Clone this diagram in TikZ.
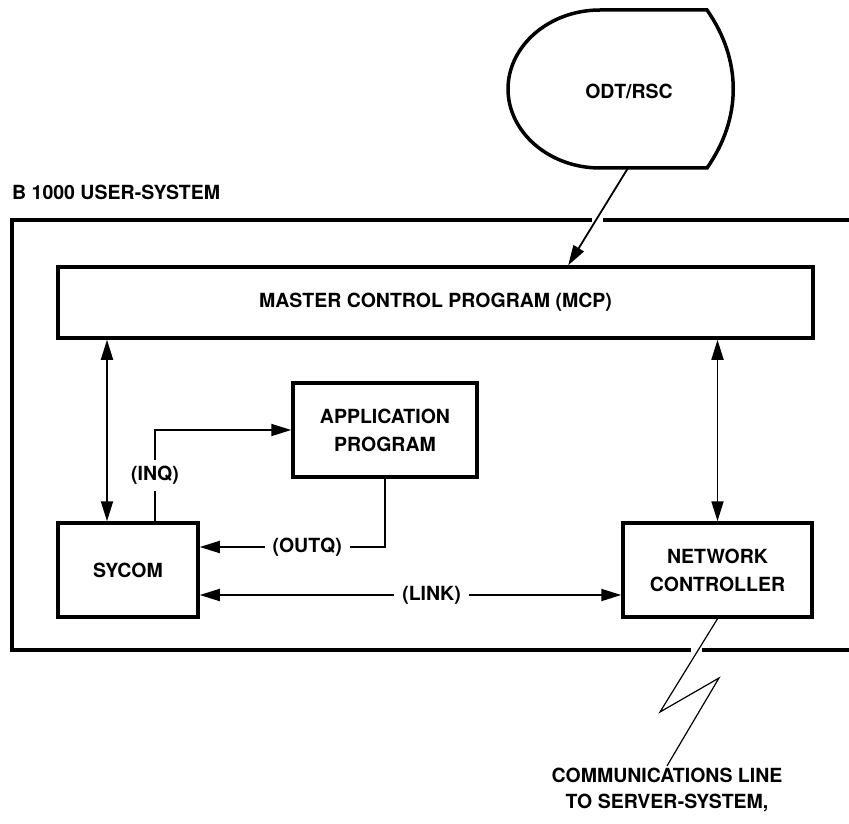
\documentclass[tikz,border=0pt]{standalone}
\usepackage{fontspec}
\setmainfont{TeX Gyre Heros}
\usetikzlibrary{arrows.meta}

\begin{document}
\begin{tikzpicture}[x=1pt,y=-1pt,
    box/.style={draw,line width=3.5pt,font=\bfseries\fontsize{19.5}{28}\selectfont,align=center,inner sep=0pt},
    conn/.style={line width=1.8pt},
    arr/.style={conn,-{Triangle[length=20pt,width=12pt]}},
    both/.style={conn,{Triangle[length=20pt,width=12pt]}-{Triangle[length=20pt,width=12pt]}},
    lbl/.style={font=\bfseries\fontsize{19.5}{26}\selectfont,align=center},
    tag/.style={lbl,fill=white,inner xsep=8pt,inner ysep=6pt}]
  \useasboundingbox (0,0) rectangle (849,824);
  \draw[line width=3.5pt] (852,220) -- (603,220) (592,220) -- (12,220) -- (12,650) -- (691,650)
    (702,650) -- (852,650);
  \draw[line width=3.5pt,line cap=round] (600,10) -- (707,10)
    .. controls (742,60) and (742,118) .. (707,168) -- (600,168)
    .. controls (549,168) and (508,132) .. (508,89)
    .. controls (508,46) and (549,10) .. (600,10);
  \node[lbl] (odt) at (629,91) {ODT/RSC};
  \coordinate (odtout) at (628,168);
  \node[lbl,anchor=west,inner sep=0pt] (sys) at (12,192) {B 1000 USER-SYSTEM};
  \node[box,minimum width=755pt,minimum height=71pt] (mcp) at (435.5,302.5) {MASTER CONTROL PROGRAM (MCP)};
  \node[box,minimum width=184pt,minimum height=94pt] (app) at (385,430) {APPLICATION\\PROGRAM};
  \node[box,minimum width=140pt,minimum height=94pt] (sycom) at (128,570) {SYCOM};
  \node[box,minimum width=189pt,minimum height=94pt] (netctl) at (717.5,570) {NETWORK\\CONTROLLER};
  \node[lbl,inner sep=2pt] (comm) at (667,790) {COMMUNICATIONS LINE\\TO SERVER-SYSTEM,};
  \draw[arr] (odtout) -- ([xshift=512pt]mcp.north west);
  \draw[both] ([xshift=-21pt]sycom.north) -- ([xshift=-21pt]sycom.north |- mcp.south);
  \draw[both] (netctl.north) -- (netctl.north |- mcp.south);
  \draw[arr] ([xshift=27pt]sycom.north) |- (app.west) node[tag,pos=0.25] {(INQ)};
  \draw[arr] (app.south) |- ([yshift=23pt]sycom.east) node[tag,pos=0.71] {(OUTQ)};
  \draw[both] ([yshift=-25pt]sycom.east) -- ([yshift=-25pt]netctl.west) node[tag,pos=0.55] {(LINK)};
  \draw[line width=1.2pt] (netctl.south) -- (660,712) -- (719,678) -- (comm.north);
\end{tikzpicture}
\end{document}
